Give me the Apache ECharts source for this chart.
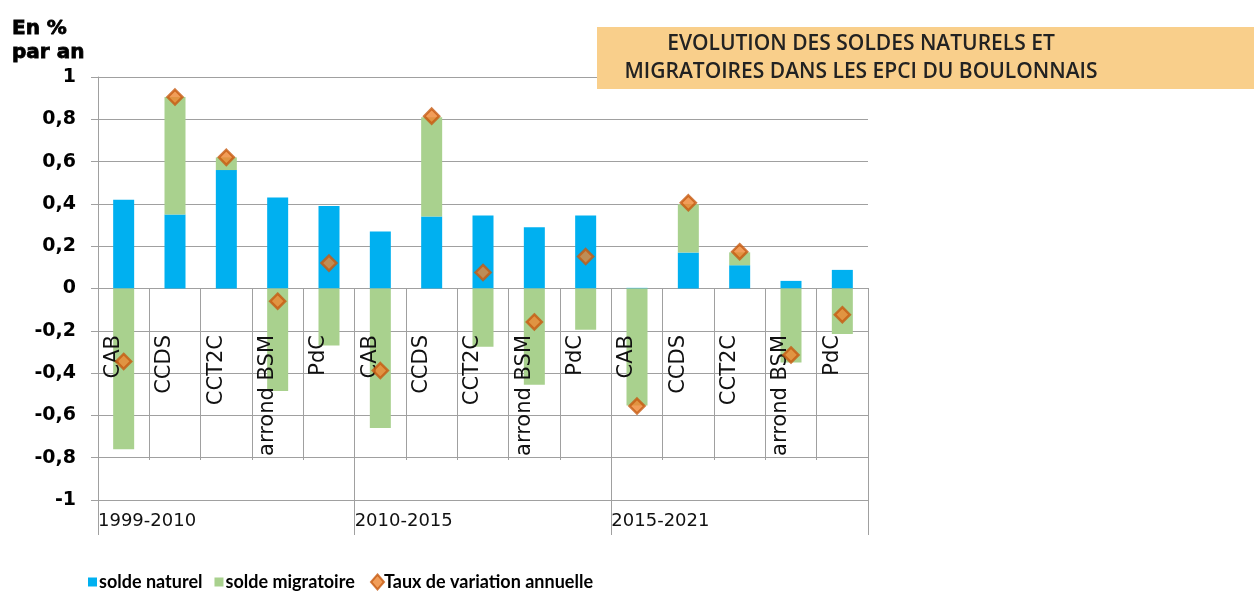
<!DOCTYPE html>
<html>
<head>
<meta charset="utf-8">
<script src="https://cdn.jsdelivr.net/npm/echarts@6/dist/echarts.min.js"></script>
<style>html,body{margin:0;padding:0;background:#fff;}#c{width:1254px;height:593px;}</style>
</head>
<body>
<div id="c"></div>
<script>
var categories = ['CAB','CCDS','CCT2C','arrond BSM','PdC','CAB','CCDS','CCT2C','arrond BSM','PdC','CAB','CCDS','CCT2C','arrond BSM','PdC'];
var periods = ['1999-2010','2010-2015','2015-2021'];
var soldeNaturel = [0.42,0.35,0.56,0.43,0.39, 0.27,0.34,0.345,0.29,0.345, 0.003,0.17,0.11,0.036,0.088];
var soldeMigratoire = [-0.76,0.555,0.06,-0.485,-0.27, -0.66,0.47,-0.275,-0.455,-0.195, -0.553,0.228,0.061,-0.35,-0.215];
var tauxVariation = [-0.345,0.905,0.62,-0.06,0.12, -0.388,0.815,0.076,-0.158,0.151, -0.556,0.405,0.174,-0.314,-0.124];
var yTicks = {min:-1, max:1, interval:0.2};

var gridCol = '#A0A0A0';
var chart = echarts.init(document.getElementById('c'), null, {renderer:'canvas'});
// main plot area, an upper "half" whose bottom edge sits on the zero line (y = 288),
// and a copy shifted left that only carries the rotated category labels
var plotBox = {left:98, right:386, top:77, bottom:93, containLabel:false, outerBoundsMode:'none'};
var upperBox = {left:98, right:386, top:77, bottom:305, containLabel:false, outerBoundsMode:'none'};
var labelBox = {left:88, right:396, top:77, bottom:305, containLabel:false, outerBoundsMode:'none'};
var legendFont = {fontFamily:'Lato', fontWeight:'bold', fontSize:18, color:'#000'};
chart.setOption({
  animation:false,
  backgroundColor:'#fff',
  title:{
    text:'En %\npar an', left:7, top:12,
    textStyle:{fontFamily:'DejaVu Sans', fontWeight:'bold', fontSize:20, color:'#000', lineHeight:24,
      textBorderColor:'#000', textBorderWidth:0.8}
  },
  graphic:[
    {type:'rect', left:597, top:27, z:100, shape:{width:657, height:62}, style:{fill:'#F9CF8B'}},
    {type:'text', z:101, x:861, y:58, style:{
      text:'EVOLUTION DES SOLDES NATURELS ET\nMIGRATOIRES DANS LES EPCI DU BOULONNAIS',
      font:'600 21px "Open Sans"', fill:'#222', align:'center', verticalAlign:'middle', lineHeight:28}}
  ],
  legend:[
    {data:['solde naturel','solde migratoire'], left:83, top:568, itemWidth:9, itemHeight:9, itemGap:12, icon:'rect',
     textStyle:Object.assign({padding:[0,0,0,-3]}, legendFont)},
    {data:[{name:'Taux de variation annuelle', icon:'diamond'}], left:365, top:568, itemWidth:13, itemHeight:15,
     textStyle:Object.assign({padding:[0,0,0,-5]}, legendFont)}
  ],
  grid:[plotBox, upperBox, upperBox, labelBox],
  xAxis:[
    {type:'category', gridIndex:0, data:categories, show:false},
    {type:'category', gridIndex:1, data:categories, position:'bottom',
     axisLine:{show:true, onZero:false, lineStyle:{color:gridCol, width:1}},
     axisTick:{show:true, interval:0, length:172, lineStyle:{color:gridCol}},
     axisLabel:{show:false, interval:0},
     splitLine:{show:false}},
    {type:'value', gridIndex:2, min:0, max:15, interval:5, position:'bottom',
     axisLine:{show:false, onZero:false},
     axisTick:{show:true, length:247, lineStyle:{color:gridCol}},
     axisLabel:{show:true, margin:224, align:'left', fontFamily:'DejaVu Sans', fontSize:18, color:'#111',
       formatter:function(v){ var i = Math.round(v/5); return i < periods.length ? periods[i] : ''; }},
     splitLine:{show:false}},
    {type:'category', gridIndex:3, data:categories, position:'bottom', z:20,
     axisLine:{show:false, onZero:false}, axisTick:{show:false},
     axisLabel:{interval:0, rotate:90, margin:47, fontFamily:'DejaVu Sans', fontSize:21, color:'#111', hideOverlap:false},
     splitLine:{show:false}}
  ],
  yAxis:[
    {type:'value', gridIndex:0, min:yTicks.min, max:yTicks.max, interval:yTicks.interval,
     axisLine:{show:true, lineStyle:{color:gridCol}},
     axisTick:{show:true, length:7, lineStyle:{color:gridCol}},
     axisLabel:{margin:22, fontFamily:'DejaVu Sans', fontWeight:'bold', fontSize:19, color:'#000',
       formatter:function(v){ var r = Math.round(v*10)/10; return String(r).replace('.', ','); }},
     splitLine:{show:true, lineStyle:{color:gridCol, width:1}}},
    {type:'value', gridIndex:1, min:0, max:1, show:false},
    {type:'value', gridIndex:2, min:0, max:1, show:false},
    {type:'value', gridIndex:3, min:0, max:1, show:false}
  ],
  series:[
    {name:'solde naturel', type:'bar', stack:'s', xAxisIndex:0, yAxisIndex:0, barWidth:21, data:soldeNaturel,
     itemStyle:{color:'#00B0F0'}},
    {name:'solde migratoire', type:'bar', stack:'s', xAxisIndex:0, yAxisIndex:0, barWidth:21, data:soldeMigratoire,
     itemStyle:{color:'#A9D18E'}},
    {name:'Taux de variation annuelle', type:'scatter', xAxisIndex:0, yAxisIndex:0, symbol:'diamond', symbolSize:15, z:30,
     data:tauxVariation, itemStyle:{color:'#EE8530', borderColor:'#C55A11', borderWidth:2.5}}
  ]
});
</script>
</body>
</html>
